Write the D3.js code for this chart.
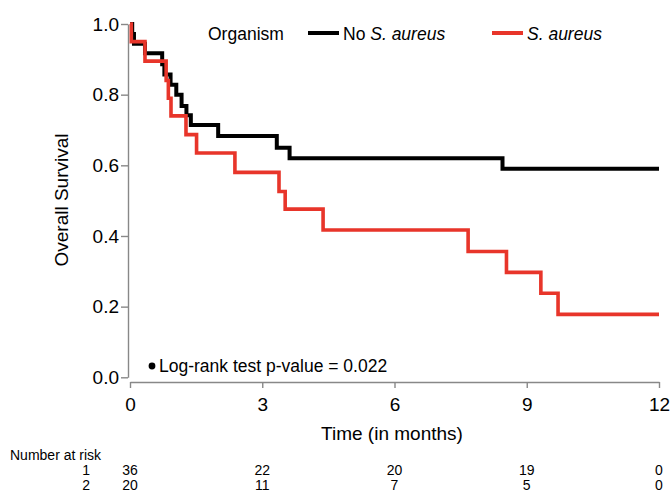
<!DOCTYPE html>
<html>
<head>
<meta charset="utf-8">
<script src="https://d3js.org/d3.v7.min.js"></script>
<style>
  body { margin: 0; background: #fff; }
  text { font-family: "Liberation Sans", Arial, sans-serif; }
</style>
</head>
<body>
<div id="chart"></div>
<script>
// Kaplan-Meier steps
let noSaTime = [0, 0.05, 0.09, 0.34, 0.73, 0.78, 0.92, 1.05, 1.17, 1.28, 1.38, 2.0, 3.33, 3.62, 8.45, 12];
let noSaSurv = [1, 0.972, 0.944, 0.917, 0.886, 0.857, 0.828, 0.800, 0.768, 0.742, 0.714, 0.683, 0.650, 0.620, 0.590, 0.590];

let saTime = [0, 0.03, 0.34, 0.82, 0.87, 0.93, 1.27, 1.51, 2.38, 3.38, 3.52, 4.38, 7.67, 8.54, 9.32, 9.71, 12];
let saSurv = [1, 0.95, 0.895, 0.84, 0.79, 0.74, 0.687, 0.635, 0.58, 0.526, 0.476, 0.417, 0.356, 0.297, 0.238, 0.178, 0.178];

let xTicks = [0, 3, 6, 9, 12];
let yTicks = [0, 0.2, 0.4, 0.6, 0.8, 1.0];

// number at risk at each x tick
let riskGroups = ["1", "2"];
let riskNoSa = [36, 22, 20, 19, 0];
let riskSa = [20, 11, 7, 5, 0];

let seriesNames = ["No S. aureus", "S. aureus"];
let colors = ["#000000", "#e8352a"];

let W = 671, H = 492;

let svg = d3.select("#chart").append("svg")
  .attr("width", W).attr("height", H);

let x = d3.scaleLinear().domain([0, 12]).range([130, 659]);
let y = d3.scaleLinear().domain([0, 1]).range([377.3, 24]);

// axes
let yAxis = svg.append("g")
  .attr("transform", "translate(128,0)")
  .call(d3.axisLeft(y).tickValues(yTicks).tickFormat(d3.format(".1f")).tickSize(7).tickSizeOuter(0).tickPadding(2));

let xAxis = svg.append("g")
  .attr("transform", "translate(0,382)")
  .call(d3.axisBottom(x).tickValues(xTicks).tickFormat(d3.format("d")).tickSize(6).tickSizeOuter(0).tickPadding(10));

[yAxis, xAxis].forEach(function (g) {
  g.select(".domain").attr("stroke", "#888").attr("stroke-width", 1.4);
  g.selectAll(".tick line").attr("stroke", "#888").attr("stroke-width", 1.4);
  g.selectAll(".tick text").attr("fill", "#000").style("font-size", "19px")
    .style("font-family", '"Liberation Sans", Arial, sans-serif');
});

// axis titles
svg.append("text")
  .attr("transform", "translate(68,200) rotate(-90)")
  .attr("text-anchor", "middle")
  .style("font-size", "19px")
  .text("Overall Survival");

svg.append("text")
  .attr("x", 392).attr("y", 440)
  .attr("text-anchor", "middle")
  .style("font-size", "19px")
  .text("Time (in months)");

// survival curves
let line = d3.line()
  .x(function (d) { return x(d[0]); })
  .y(function (d) { return y(d[1]); })
  .curve(d3.curveStepAfter);

let curves = [d3.zip(noSaTime, noSaSurv), d3.zip(saTime, saSurv)];

svg.append("g").selectAll("path")
  .data(curves)
  .enter().append("path")
  .attr("d", line)
  .attr("fill", "none")
  .attr("stroke", function (d, i) { return colors[i]; })
  .attr("stroke-width", function (d, i) { return i == 0 ? 4 : 3.6; });

// legend
let legend = svg.append("g");
legend.append("text").attr("x", 208).attr("y", 39.5)
  .style("font-size", "17.5px").text("Organism");

let legX = [308, 492];
seriesNames.forEach(function (name, i) {
  legend.append("line")
    .attr("x1", legX[i]).attr("x2", legX[i] + 31)
    .attr("y1", 33).attr("y2", 33)
    .attr("stroke", colors[i]).attr("stroke-width", 4);
  let t = legend.append("text").attr("x", legX[i] + 35).attr("y", 39.5)
    .style("font-size", "17.5px");
  if (i == 0) {
    t.append("tspan").text("No ");
  }
  t.append("tspan").style("font-style", "italic").text("S. aureus");
});

// p-value annotation
svg.append("circle").attr("cx", 152).attr("cy", 366).attr("r", 3.4).attr("fill", "#000");
svg.append("text").attr("x", 159).attr("y", 372)
  .style("font-size", "17.5px")
  .text("Log-rank test p-value = 0.022");

// number at risk table
svg.append("text").attr("x", 10).attr("y", 460)
  .style("font-size", "14px").text("Number at risk");

[riskNoSa, riskSa].forEach(function (row, r) {
  let yy = 475 + r * 15;
  svg.append("text").attr("x", 90).attr("y", yy)
    .attr("text-anchor", "end").style("font-size", "14px").text(riskGroups[r]);
  svg.append("g").selectAll("text")
    .data(row)
    .enter().append("text")
    .attr("x", function (d, i) { return x(xTicks[i]); })
    .attr("y", yy)
    .attr("text-anchor", "middle")
    .style("font-size", "14px")
    .text(function (d) { return d; });
});
</script>
</body>
</html>
